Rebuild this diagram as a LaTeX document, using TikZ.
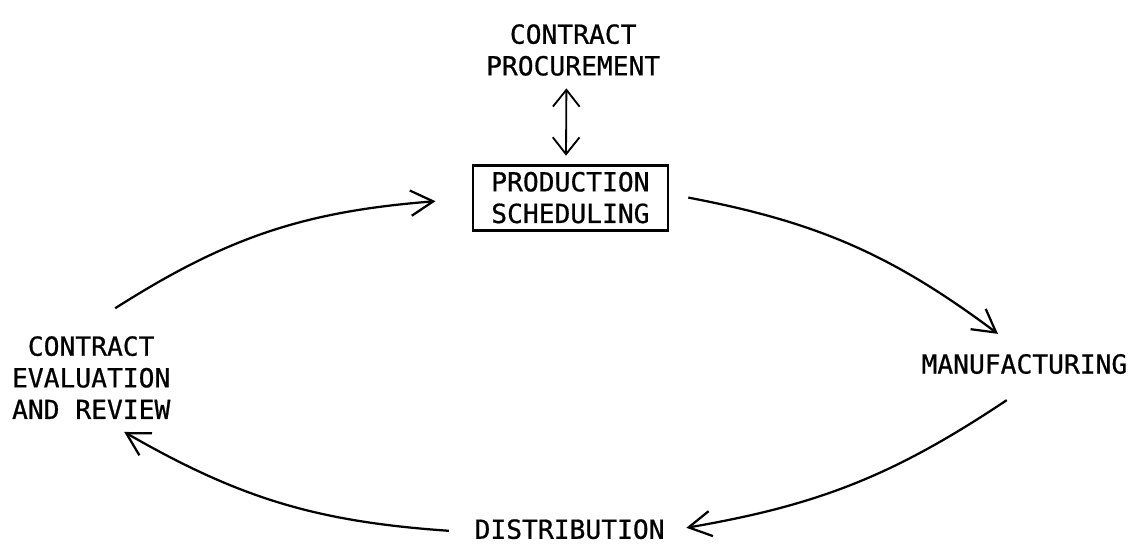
\documentclass[tikz,border=0pt]{standalone}
\usepackage{fontspec}
\setmonofont[FakeBold=0.7]{DejaVu Sans Mono}
\usepackage{tikz}
\usetikzlibrary{arrows.meta}

\begin{document}
\begin{tikzpicture}[every node/.style={font=\ttfamily\fontsize{18.7}{22.5}\selectfont,align=center},
  flow/.style={line width=1.6pt,-{Straight Barb[length=16pt,width=18pt]}}]
  \useasboundingbox (0,0) rectangle (28.325,13.65);
  % stages of the cycle
  \node (proc) at (14.33,12.4) {CONTRACT\\PROCUREMENT};
  \node[draw,line width=2pt,minimum width=4.875cm,minimum height=1.625cm] (sched) at (14.26,8.71) {PRODUCTION\\SCHEDULING};
  \node (manu) at (25.61,4.55) {MANUFACTURING};
  \node (dist) at (14.24,0.42) {DISTRIBUTION};
  \node (eval) at (2.28,4.21) {CONTRACT\\EVALUATION\\AND REVIEW};
  % link to procurement
  \draw[line width=1.3pt,{Straight Barb[length=12pt,width=19pt]}-{Straight Barb[length=12pt,width=19pt]}]
    ([shift={(-0.17,-0.19)}]proc.south) -- ([shift={(-0.11,0.2)}]sched.north);
  % the cycle
  \draw[flow] ([shift={(0.6,0.575)}]eval.north) to[bend left=14] ([shift={(-0.9,-0.09)}]sched.west);
  \draw[flow] ([shift={(0.475,0)}]sched.east) to[bend left=13] ([shift={(-0.66,0.38)}]manu.north);
  \draw[flow] ([shift={(-0.44,-0.53)}]manu.south) to[bend left=12] ([shift={(0.42,0.035)}]dist.east);
  \draw[flow] ([shift={(-0.52,-0.04)}]dist.west) to[bend left=13] ([shift={(0.825,-0.2)}]eval.south);
\end{tikzpicture}
\end{document}
